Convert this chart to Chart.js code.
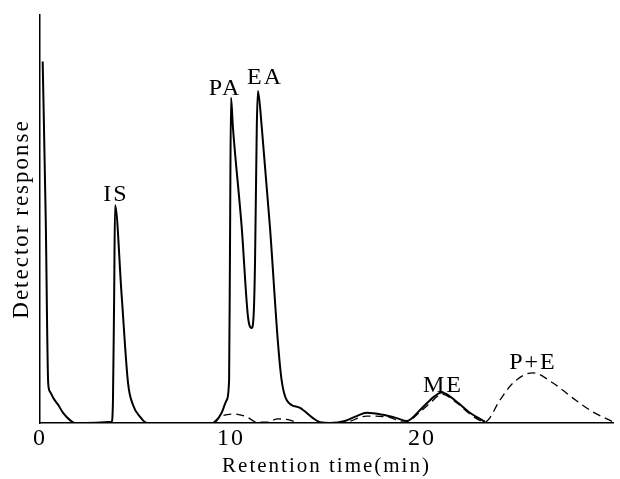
<!DOCTYPE html>
<html>
<head>
<meta charset="utf-8">
<script src="https://cdn.jsdelivr.net/npm/chart.js@4/dist/chart.umd.min.js"></script>
<style>
  body { margin: 0; background: #fff; }
  #wrap { width: 620px; height: 479px; }
</style>
</head>
<body>
<div id="wrap"><canvas id="box"></canvas></div>
<script>
// solid trace (sample)
var solidTime = [0.14, 0.30, 0.43, 0.52, 0.70, 0.96, 1.22, 1.57, 1.83,
  3.75, 3.82, 3.88, 3.93, 4.27, 4.61, 4.87, 5.24, 5.59,
  9.06, 9.51, 9.77, 9.90, 9.95, 10.0, 10.10, 10.56, 10.89, 11.08, 11.20, 11.26, 11.35, 11.41, 11.61,
  12.04, 12.46, 12.65, 12.92, 13.61, 14.29, 14.66, 15.18, 15.97, 16.58, 17.1, 17.96,
  18.68, 19.2, 19.9, 20.42, 21.03, 21.82, 22.51, 23.3];
var solidResp = [88.6, 50.0, 9.7, 7.7, 6.1, 4.4, 2.4, 0.7, 0,
  0.3, 5.6, 30.0, 53.4, 31.6, 9.8, 4.4, 1.5, 0,
  0, 2.5, 5.6, 10.5, 45.0, 79.7, 72.5, 48.0, 26.0, 23.3, 28.0, 40.0, 72.5, 81.4, 72.5,
  48.0, 19.6, 10.5, 5.6, 3.7, 1.2, 0.2, 0, 0.5, 1.7, 2.5, 2.0,
  1.2, 0.5, 3.2, 5.6, 7.5, 5.2, 2.5, 0.3];

// dashed trace (reference)
var dashedTime = [9.06, 9.42, 10.10, 10.82, 11.35, 11.87, 12.46, 13.09, 13.61, 15.45,
  16.06, 17.1, 18.15, 19.11, 19.9, 20.42, 21.05, 21.83, 22.51, 23.3,
  24.08, 24.76, 25.81, 26.86, 27.9, 28.95, 30.0];
var dashedResp = [0, 1.5, 2.2, 1.5, 0.2, 0.2, 1.0, 0.7, 0, 0,
  0.2, 1.7, 1.5, 0.2, 2.7, 4.9, 7.1, 4.9, 2.2, 0.3,
  5.6, 9.8, 12.3, 9.8, 6.1, 2.7, 0.3];

// peak names and where they sit
var peakNames = ["IS", "PA", "EA", "ME", "P+E"];
var peakTime = [3.98, 9.69, 11.78, 21.1, 25.81];
var peakResp = [54.4, 80.4, 83.1, 7.6, 13.2];

var xTicks = [0, 10, 20];

function toPoints(xs, ys) {
  return xs.map(function (x, i) { return { x: x, y: ys[i] }; });
}

var serif = '"Liberation Serif", "DejaVu Serif", serif';

var spacing = {
  id: 'spacing',
  beforeUpdate: function (chart) { chart.ctx.letterSpacing = '2px'; },
  beforeDraw: function (chart) { chart.ctx.letterSpacing = '2px'; }
};

var peakLabels = {
  id: 'peakLabels',
  afterDatasetsDraw: function (chart) {
    var ctx = chart.ctx;
    var xs = chart.scales.x, ys = chart.scales.y;
    ctx.save();
    ctx.letterSpacing = '2px';
    ctx.fillStyle = '#000';
    ctx.font = '24px ' + serif;
    ctx.textAlign = 'center';
    ctx.textBaseline = 'alphabetic';
    peakNames.forEach(function (name, i) {
      ctx.fillText(name, xs.getPixelForValue(peakTime[i]), ys.getPixelForValue(peakResp[i]));
    });
    ctx.restore();
  }
};

var mychart = new Chart("box", {
  type: "line",
  data: {
    datasets: [
      {
        label: 'solid',
        data: toPoints(solidTime, solidResp),
        borderColor: '#000',
        borderWidth: 2,
        pointRadius: 0,
        fill: false,
        cubicInterpolationMode: 'monotone'
      },
      {
        label: 'dashed',
        data: toPoints(dashedTime, dashedResp),
        borderColor: '#000',
        borderWidth: 1.3,
        borderDash: [8, 5],
        pointRadius: 0,
        fill: false,
        cubicInterpolationMode: 'monotone'
      }
    ]
  },
  options: {
    responsive: true,
    maintainAspectRatio: false,
    animation: false,
    layout: { padding: { top: 15, right: 7, left: 0, bottom: 0 } },
    plugins: { legend: { display: false }, tooltip: { enabled: false } },
    scales: {
      x: {
        type: 'linear',
        min: 0,
        max: 30,
        afterBuildTicks: function (scale) {
          scale.ticks = xTicks.map(function (v) { return { value: v }; });
        },
        afterFit: function (scale) { scale.height = 56; },
        grid: { display: false, drawTicks: false },
        border: { display: true, color: '#000', width: 1.5 },
        ticks: { color: '#000', font: { family: serif, size: 24 }, padding: 1, maxRotation: 0 },
        title: {
          display: true,
          text: 'Retention time(min)',
          color: '#000',
          font: { family: serif, size: 21 },
          padding: { top: 0, bottom: 0 }
        }
      },
      y: {
        min: 0,
        max: 100,
        afterFit: function (scale) { scale.width = 40; },
        grid: { display: false, drawTicks: false },
        border: { display: true, color: '#000', width: 1.5 },
        ticks: { display: false },
        title: {
          display: true,
          text: 'Detector response',
          color: '#000',
          font: { family: serif, size: 23 },
          padding: { top: 8, bottom: 0 }
        }
      }
    }
  },
  plugins: [spacing, peakLabels]
});
</script>
</body>
</html>
